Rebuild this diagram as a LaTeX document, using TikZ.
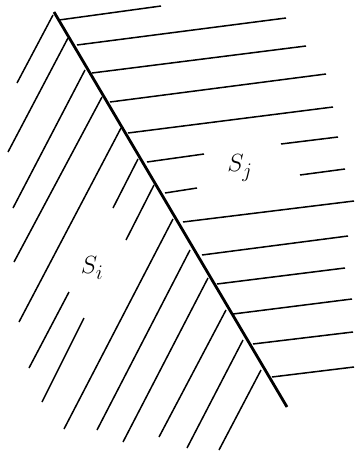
\documentclass[tikz,border=0pt]{standalone}
\usepackage{amsmath}
\usepackage{tikz}
\usetikzlibrary{positioning}
\definecolor{linecolor}{RGB}{0, 0, 0}
\definecolor{labelcolor}{RGB}{0, 0, 0}
\tikzset{
boundary/.style={
  draw=linecolor,
  line width=2.8pt
},
hatchline/.style={
  draw=linecolor,
  line width=1.5pt
},
regionlabel/.style={
  font=\fontsize{32}{36}\selectfont,
  text=labelcolor,
  inner sep=0pt
}
}

\begin{document}
\begin{tikzpicture}[x=1pt, y=-1pt]
      \useasboundingbox (0,0) rectangle (355,453);

      % interface between the two regions
      \coordinate (top) at (54,12);
      \coordinate (bot) at (287,407);
      \draw[boundary] (top) -- (bot);

      % hatching of S_j (right of the interface)
      \foreach \xa/\ya/\xb/\yb in {
          59/20/161/6, 77/45/286/18, 92/73/306/46, 110/102/326/74,
          128/133/333/107, 147/162/204/154, 281/144/338/137,
          165/193/197/188, 300/175/345/169, 183/222/354/201,
          202/255/348/236, 217/284/345/268, 233/314/352/299,
          253/344/353/332, 272/377/354/367}
        \draw[hatchline] (\xa,\ya) -- (\xb,\yb);

      % hatching of S_i (left of the interface)
      \foreach \xa/\ya/\xb/\yb in {
          53/15/17/83, 68/38/8/152, 85/70/13/208, 102/97/14/262,
          121/128/19/322, 138/159/113/208, 69/292/29/368,
          154/185/126/240, 84/318/42/402, 173/219/64/429,
          190/250/97/430, 208/278/123/442, 226/310/159/437,
          243/340/187/448, 261/370/219/450}
        \draw[hatchline] (\xa,\ya) -- (\xb,\yb);

      % region labels
      \node[regionlabel] (si) at (92,268) {$S_i$};
      \node[regionlabel] (sj) at (240,168) {$S_j$};
    \end{tikzpicture}
\end{document}
